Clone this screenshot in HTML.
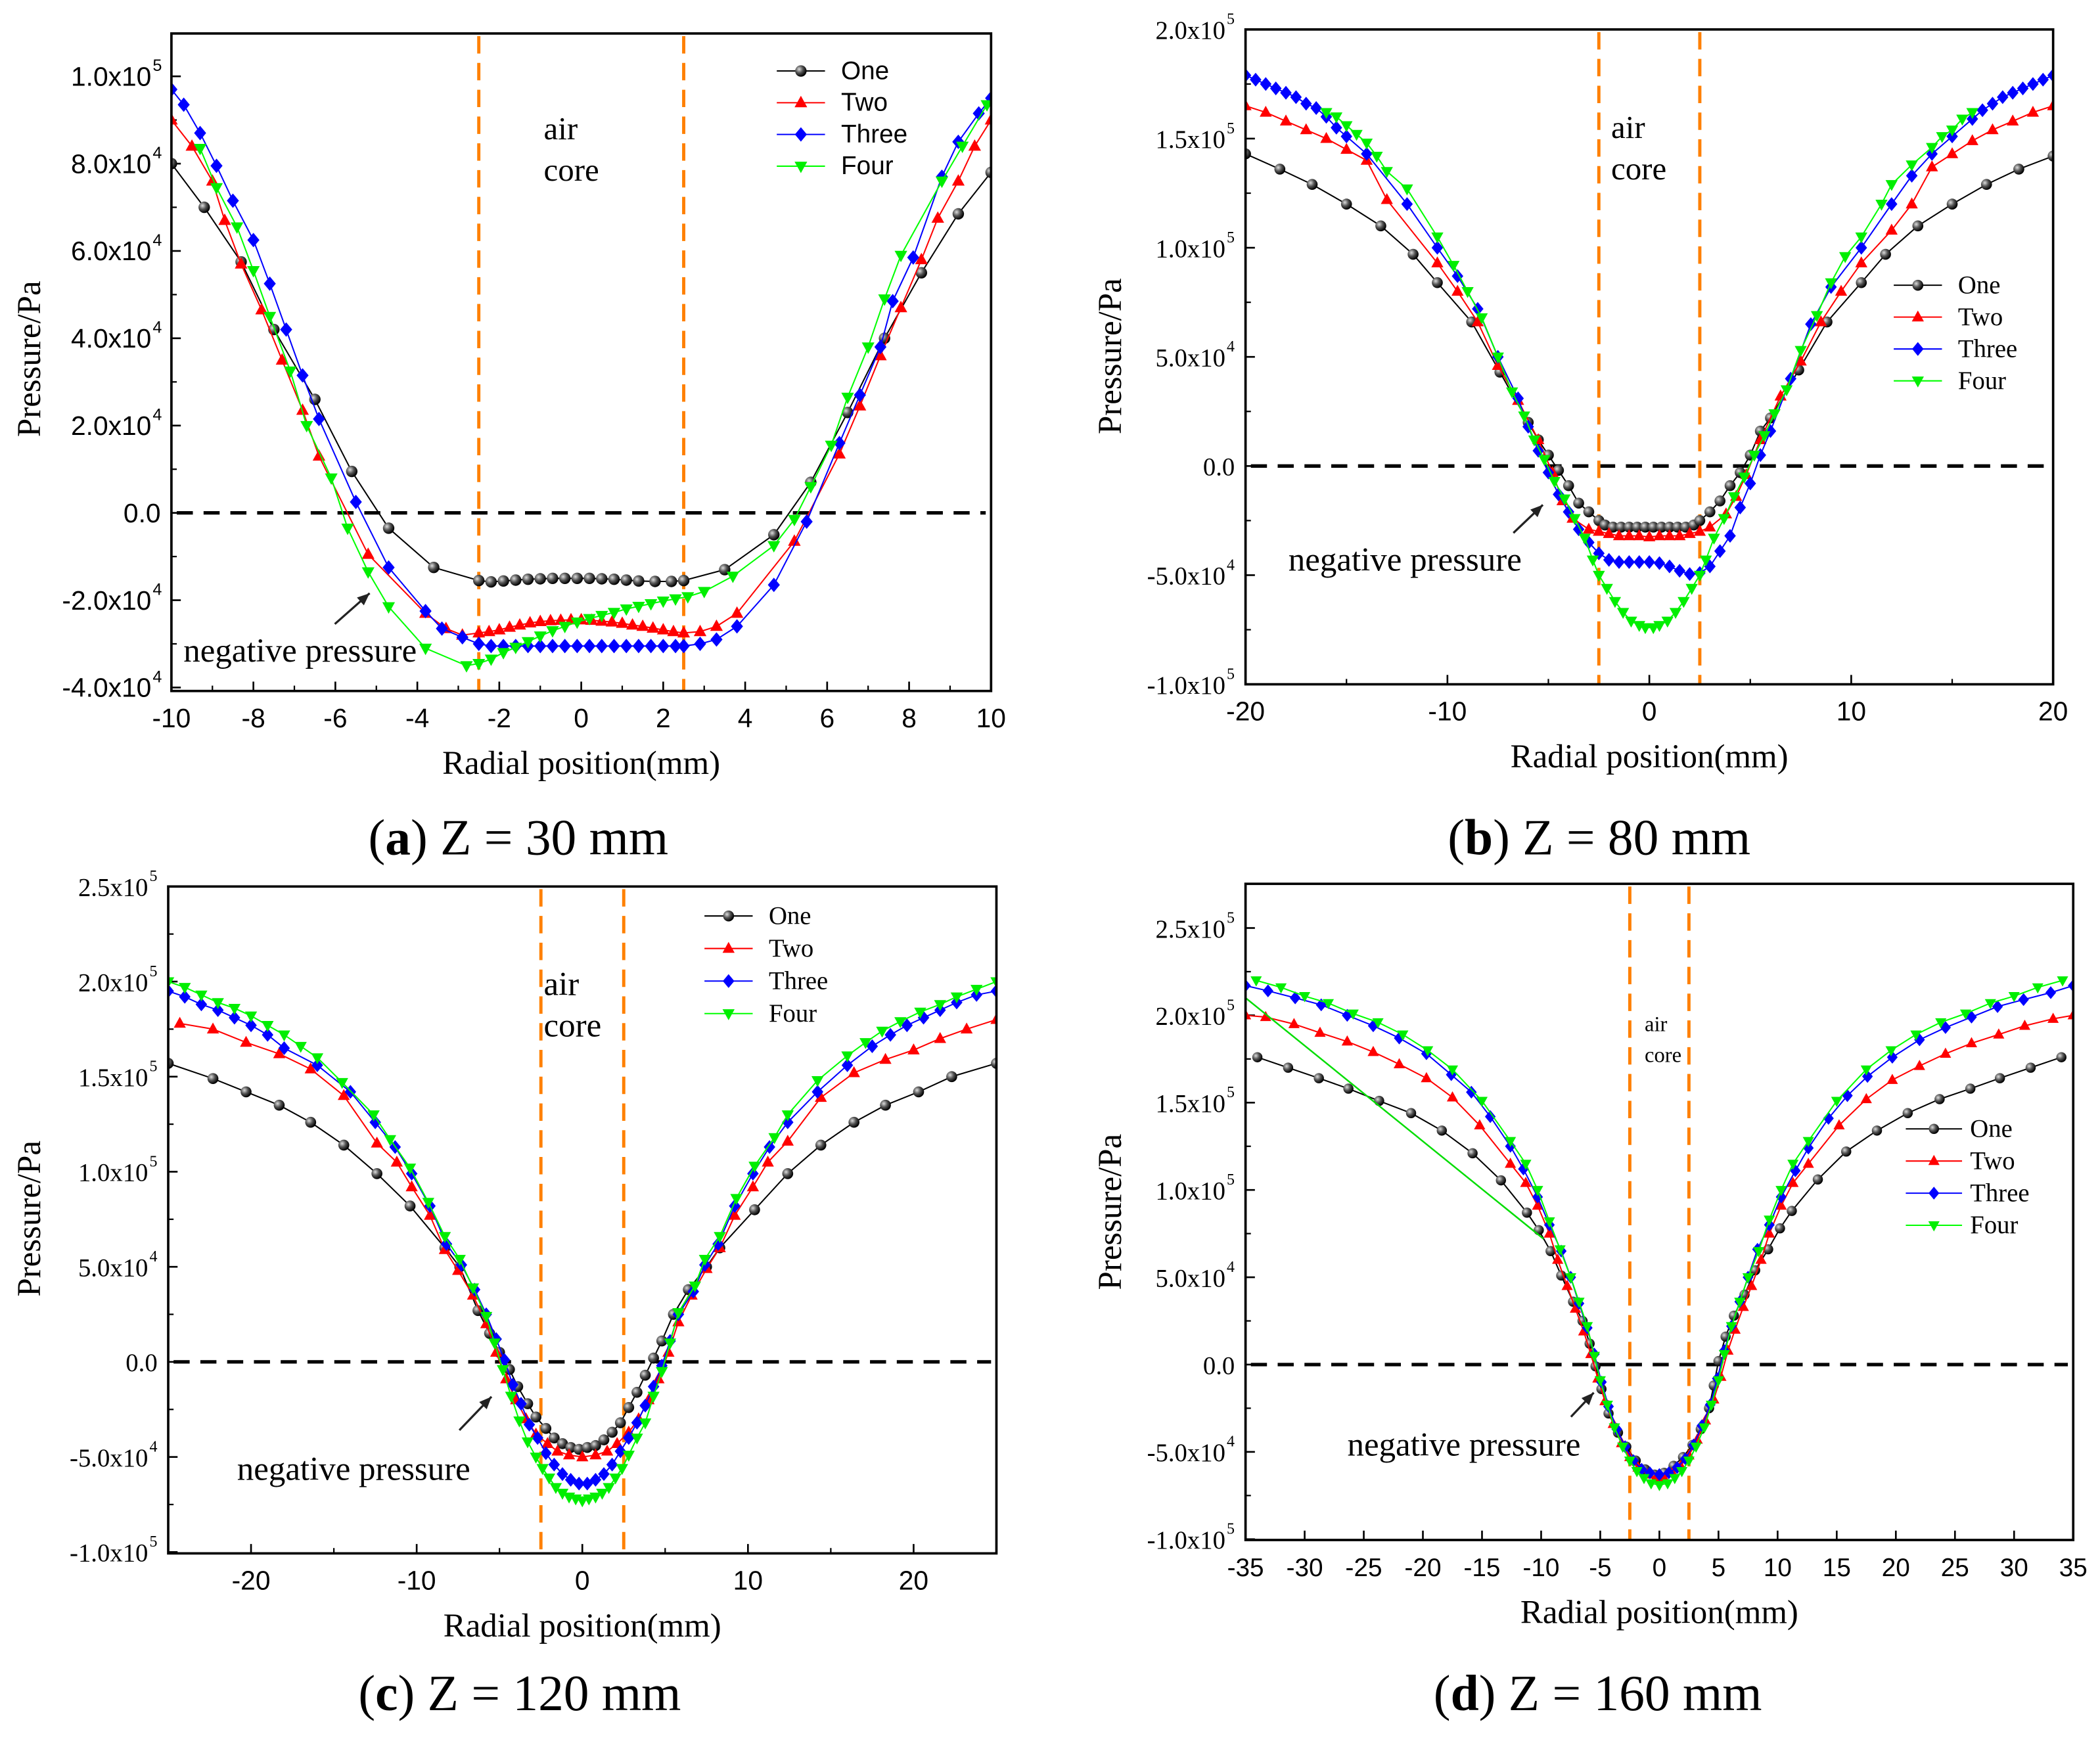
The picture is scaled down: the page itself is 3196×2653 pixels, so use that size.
<!DOCTYPE html>
<html><head><meta charset="utf-8"><style>
html,body{margin:0;padding:0;background:#fff}
svg{display:block}
</style></head><body>
<svg id="fig" xmlns="http://www.w3.org/2000/svg" width="3196" height="2653" viewBox="0 0 1568 1301.6">
<rect x="0" y="0" width="1568" height="1302" fill="#fff"/>
<defs>
<radialGradient id="ball" cx="35%" cy="35%" r="65%"><stop offset="0" stop-color="#ddd"/><stop offset="0.5" stop-color="#555"/><stop offset="1" stop-color="#000"/></radialGradient>
</defs>
</svg>
<script>
// ---------- DATA (values in 1e4 Pa, x in mm) ----------
const aOne=[[-10,8],[-9.2,7.0],[-8.3,5.75],[-7.5,4.2],[-6.5,2.6],[-5.6,0.95],[-4.7,-0.35],[-3.6,-1.25],[-2.5,-1.55],[-2.2,-1.58],[-1.9,-1.56],[-1.6,-1.54],[-1.3,-1.52],[-1.0,-1.51],[-0.7,-1.5],[-0.4,-1.5],[-0.1,-1.5],[0.2,-1.5],[0.5,-1.51],[0.8,-1.52],[1.1,-1.54],[1.4,-1.56],[1.8,-1.57],[2.2,-1.57],[2.5,-1.55],[3.5,-1.3],[4.7,-0.5],[5.6,0.7],[6.5,2.3],[7.4,4.0],[8.3,5.5],[9.2,6.85],[10,7.8]];
const aTwo=[[-10,9.0],[-9.5,8.4],[-9,7.6],[-8.7,6.7],[-8.3,5.7],[-7.8,4.65],[-7.3,3.5],[-6.8,2.35],[-6.4,1.3],[-5.2,-0.95],[-3.8,-2.3],[-3.3,-2.65],[-2.9,-2.8],[-2.5,-2.75],[-2.25,-2.72],[-2.0,-2.68],[-1.75,-2.62],[-1.5,-2.57],[-1.25,-2.52],[-1.0,-2.49],[-0.75,-2.47],[-0.5,-2.46],[-0.25,-2.45],[0,-2.45],[0.25,-2.46],[0.5,-2.48],[0.75,-2.5],[1.0,-2.53],[1.25,-2.57],[1.5,-2.6],[1.75,-2.64],[2.0,-2.68],[2.25,-2.72],[2.5,-2.75],[2.9,-2.72],[3.3,-2.6],[3.8,-2.3],[5.2,-0.65],[6.3,1.35],[6.8,2.45],[7.3,3.6],[7.8,4.7],[8.3,5.8],[8.7,6.75],[9.2,7.6],[9.6,8.4],[10,9.0]];
const aThree=[[-10,9.7],[-9.7,9.35],[-9.3,8.7],[-8.9,7.95],[-8.5,7.15],[-8.0,6.25],[-7.6,5.25],[-7.2,4.2],[-6.8,3.15],[-6.4,2.15],[-5.5,0.25],[-4.7,-1.25],[-3.8,-2.25],[-3.4,-2.65],[-2.9,-2.85],[-2.5,-3.0],[-2.2,-3.05],[-1.9,-3.05],[-1.6,-3.05],[-1.3,-3.05],[-1.0,-3.05],[-0.7,-3.05],[-0.4,-3.05],[-0.1,-3.05],[0.2,-3.05],[0.5,-3.05],[0.8,-3.05],[1.1,-3.05],[1.4,-3.05],[1.7,-3.05],[2.0,-3.05],[2.3,-3.05],[2.5,-3.05],[2.9,-3.0],[3.3,-2.9],[3.8,-2.6],[4.7,-1.65],[5.5,-0.2],[6.3,1.6],[6.8,2.7],[7.3,3.8],[7.6,4.85],[8.1,5.85],[8.8,7.7],[9.2,8.5],[9.7,9.15],[10,9.5]];
const aFour=[[-9.3,8.35],[-8.9,7.45],[-8.4,6.55],[-8.0,5.55],[-7.6,4.5],[-7.1,3.25],[-6.7,2.0],[-6.1,0.8],[-5.7,-0.35],[-5.2,-1.35],[-4.7,-2.15],[-3.8,-3.1],[-2.8,-3.5],[-2.5,-3.45],[-2.2,-3.35],[-1.9,-3.2],[-1.6,-3.08],[-1.3,-2.95],[-1.0,-2.82],[-0.7,-2.7],[-0.4,-2.6],[-0.1,-2.5],[0.2,-2.42],[0.5,-2.35],[0.8,-2.28],[1.1,-2.2],[1.4,-2.14],[1.7,-2.08],[2.0,-2.02],[2.3,-1.97],[2.6,-1.92],[3.0,-1.8],[3.7,-1.45],[4.7,-0.75],[5.2,-0.15],[5.6,0.6],[6.1,1.55],[6.5,2.65],[7.0,3.8],[7.4,4.9],[7.8,5.9],[8.8,7.6],[9.3,8.4],[9.9,9.35]];

const bOne=[[-20,14.3],[-18.3,13.6],[-16.7,12.9],[-15,12.0],[-13.3,11.0],[-11.7,9.7],[-10.5,8.4],[-8.8,6.6],[-7.4,4.3],[-6.0,2.0],[-5.5,1.2],[-5.0,0.5],[-4.5,-0.2],[-4.0,-0.9],[-3.5,-1.7],[-3.0,-2.1],[-2.5,-2.5],[-2.2,-2.7],[-1.8,-2.8],[-1.4,-2.8],[-1.0,-2.8],[-0.6,-2.8],[-0.2,-2.8],[0.2,-2.8],[0.6,-2.8],[1.0,-2.8],[1.4,-2.8],[1.8,-2.8],[2.2,-2.7],[2.5,-2.5],[3.0,-2.1],[3.5,-1.6],[4.0,-0.9],[4.5,-0.3],[5.0,0.5],[5.5,1.6],[6.0,2.2],[7.4,4.4],[8.8,6.6],[10.5,8.4],[11.7,9.7],[13.3,11],[15,12],[16.7,12.9],[18.3,13.6],[20,14.2]];
const bTwo=[[-20,16.5],[-19,16.2],[-18,15.8],[-17,15.4],[-16,15.0],[-15,14.5],[-14,14.0],[-13,12.2],[-10.5,9.3],[-9.5,8.0],[-8.5,6.6],[-7.5,4.6],[-6.5,3.0],[-5.5,1.2],[-4.8,-0.3],[-4.3,-1.6],[-3.8,-2.4],[-3,-2.9],[-2.5,-3.0],[-2,-3.1],[-1.5,-3.2],[-1,-3.2],[-0.5,-3.2],[0,-3.25],[0.5,-3.2],[1,-3.2],[1.5,-3.2],[2,-3.1],[2.5,-3.0],[3,-2.8],[3.8,-2.2],[4.3,-1.4],[4.8,-0.4],[5.5,1.2],[6.5,3.2],[7.5,4.8],[8.5,6.6],[9.5,8.0],[10.5,9.3],[12,10.8],[13,12.0],[14,13.7],[15,14.3],[16,14.9],[17,15.4],[18,15.8],[19,16.2],[20,16.5]];
const bThree=[[-20,17.9],[-19.5,17.7],[-19,17.5],[-18.5,17.3],[-18,17.1],[-17.5,16.9],[-17,16.6],[-16.5,16.4],[-16,16.0],[-15.5,15.5],[-15,15.1],[-14,14.3],[-12,12.0],[-10.5,10.0],[-9.5,8.7],[-8.5,7.2],[-7.5,5.0],[-6.5,3.1],[-6.0,1.8],[-5.5,0.7],[-5.0,-0.3],[-4.5,-1.3],[-4.0,-2.1],[-3.5,-2.9],[-3.0,-3.5],[-2.5,-4.0],[-2.0,-4.3],[-1.5,-4.4],[-1.0,-4.4],[-0.5,-4.4],[0,-4.4],[0.5,-4.45],[1.0,-4.6],[1.5,-4.8],[2.0,-4.95],[2.5,-4.9],[3.0,-4.6],[3.5,-3.9],[4.0,-3.2],[4.5,-1.9],[5.0,-0.8],[5.5,0.5],[6.0,1.6],[7,4.0],[8,6.5],[9,8.2],[10.5,10.0],[12,12.0],[13,13.3],[14,14.3],[15,15.1],[16,15.9],[16.5,16.3],[17,16.6],[17.5,16.9],[18,17.1],[18.5,17.3],[19,17.5],[19.5,17.7],[20,17.9]];
const bFour=[[-16,16.2],[-15.5,16.0],[-15,15.6],[-14.5,15.2],[-14,14.8],[-13.5,14.2],[-13,13.5],[-12,12.7],[-10.5,10.5],[-9.7,9.2],[-9,8.0],[-8.3,6.8],[-7.5,5.0],[-6.8,3.4],[-6.2,2.3],[-5.7,1.2],[-5.2,0.3],[-4.7,-0.7],[-4.2,-1.5],[-3.7,-2.4],[-3.2,-3.3],[-2.8,-4.3],[-2.5,-5.0],[-2.1,-5.6],[-1.7,-6.2],[-1.3,-6.7],[-0.9,-7.1],[-0.5,-7.3],[-0.2,-7.4],[0.2,-7.4],[0.5,-7.3],[0.9,-7.1],[1.3,-6.7],[1.7,-6.2],[2.1,-5.6],[2.5,-5.0],[2.8,-4.3],[3.2,-3.3],[3.7,-2.4],[4.2,-1.4],[4.7,-0.5],[5.2,0.5],[5.7,1.4],[6.2,2.4],[6.8,3.5],[7.5,5.3],[8.3,6.9],[9,8.4],[9.7,9.6],[10.5,10.5],[11.5,12.0],[12,12.9],[13,13.8],[14,14.6],[14.5,15.1],[15,15.4],[15.5,15.9],[16,16.2]];

const cOne=[[-25,15.7],[-22.3,14.9],[-20.3,14.2],[-18.3,13.5],[-16.4,12.6],[-14.4,11.4],[-12.4,9.9],[-10.4,8.2],[-8.3,6.0],[-7.4,5.0],[-6.3,2.7],[-5.6,1.5],[-5.0,0.5],[-4.4,-0.4],[-3.9,-1.3],[-3.3,-2.2],[-2.8,-2.9],[-2.2,-3.5],[-1.7,-4.0],[-1.2,-4.3],[-0.7,-4.5],[-0.2,-4.6],[0.3,-4.5],[0.8,-4.4],[1.3,-4.1],[1.8,-3.7],[2.3,-3.2],[2.8,-2.4],[3.3,-1.6],[3.8,-0.7],[4.3,0.2],[4.8,1.1],[5.5,2.5],[6.4,3.8],[7.5,5.0],[8.3,6.0],[10.4,8.0],[12.4,9.9],[14.4,11.4],[16.4,12.6],[18.3,13.5],[20.3,14.2],[22.3,15.0],[25,15.7]];
const cTwo=[[-24.3,17.8],[-22.3,17.5],[-20.3,16.8],[-18.3,16.2],[-16.4,15.4],[-14.4,14.0],[-12.4,11.5],[-11.2,10.5],[-10.3,9.2],[-9.2,7.7],[-8.3,5.9],[-7.5,4.8],[-6.6,3.5],[-5.8,2.0],[-5.2,0.5],[-4.6,-0.9],[-4.0,-2.0],[-3.4,-3.0],[-2.8,-3.8],[-2.1,-4.3],[-1.5,-4.7],[-0.8,-4.9],[0,-5.0],[0.8,-4.9],[1.5,-4.7],[2.1,-4.3],[2.8,-3.7],[3.4,-3.0],[4.0,-2.0],[4.6,-0.9],[5.2,0.5],[5.8,2.1],[6.6,3.5],[7.5,4.9],[8.3,6.0],[9.2,7.7],[10.3,9.2],[11.2,10.5],[12.4,11.6],[14.4,13.9],[16.4,15.2],[18.3,15.9],[20,16.4],[21.6,17.0],[23.2,17.5],[25,18.0]];
const cThree=[[-25,19.5],[-24,19.2],[-23,18.8],[-22,18.5],[-21,18.1],[-20,17.7],[-19,17.2],[-18,16.5],[-16,15.6],[-14,14.2],[-12.5,12.6],[-11.3,11.3],[-10.3,9.9],[-9.2,8.2],[-8.2,6.2],[-7.3,5.1],[-6.5,3.8],[-5.8,2.5],[-5.2,1.2],[-4.7,0.1],[-4.2,-1.2],[-3.7,-2.2],[-3.2,-3.3],[-2.7,-4.0],[-2.2,-4.8],[-1.7,-5.4],[-1.2,-5.9],[-0.7,-6.2],[-0.2,-6.4],[0.3,-6.4],[0.8,-6.2],[1.3,-5.9],[1.8,-5.4],[2.3,-4.7],[2.8,-4.0],[3.3,-3.2],[3.8,-2.3],[4.3,-1.3],[4.8,-0.2],[5.3,1.1],[5.8,2.5],[6.7,3.7],[7.4,5.1],[8.2,6.2],[9.2,8.2],[10.3,9.9],[11.3,11.3],[12.4,12.6],[14.2,14.2],[16,15.6],[17.5,16.6],[18.6,17.2],[19.6,17.7],[20.6,18.1],[21.6,18.5],[22.6,18.9],[23.8,19.3],[25,19.5]];
const cFour=[[-25,20.0],[-24,19.7],[-23,19.3],[-22,18.9],[-21,18.6],[-20,18.2],[-19,17.7],[-18,17.2],[-17,16.6],[-16,16.0],[-14.5,14.7],[-12.6,13.0],[-11.6,11.7],[-10.4,10.2],[-9.3,8.4],[-8.3,6.6],[-7.4,5.4],[-6.6,3.9],[-5.8,2.4],[-5.3,1.0],[-4.8,-0.4],[-4.3,-1.8],[-3.8,-3.1],[-3.3,-4.2],[-2.8,-5.0],[-2.4,-5.6],[-2.0,-6.1],[-1.6,-6.6],[-1.2,-6.9],[-0.8,-7.1],[-0.4,-7.2],[0,-7.3],[0.4,-7.2],[0.8,-7.1],[1.2,-6.9],[1.6,-6.6],[2.0,-6.1],[2.4,-5.6],[2.8,-4.9],[3.3,-4.0],[3.8,-3.2],[4.3,-1.8],[4.8,-0.5],[5.3,1.0],[5.8,2.6],[6.8,4.0],[7.4,5.4],[8.3,6.6],[9.3,8.6],[10.4,10.3],[11.6,11.8],[12.4,13.0],[14.2,14.8],[16,16.1],[17.1,16.8],[18.1,17.4],[19.2,17.9],[20.4,18.4],[21.6,18.8],[22.6,19.2],[23.8,19.6],[25,20.0]];

const dOne=[[-34,17.6],[-31.4,17.0],[-28.8,16.4],[-26.3,15.8],[-23.7,15.1],[-21,14.4],[-18.4,13.4],[-15.8,12.1],[-13.4,10.55],[-11.2,8.7],[-10.2,7.7],[-9.2,6.5],[-8.3,5.1],[-7.3,3.6],[-6.5,2.5],[-5.9,1.2],[-5.4,-0.1],[-4.9,-1.4],[-4.3,-2.8],[-3.5,-3.9],[-2.8,-4.7],[-2.0,-5.5],[-1.2,-6.0],[-0.4,-6.3],[0.4,-6.2],[1.2,-5.8],[2.0,-5.3],[2.8,-4.6],[3.5,-3.7],[4.2,-2.5],[4.6,-1.2],[5.0,0.2],[5.6,1.6],[6.3,2.8],[7.2,4.0],[8.1,5.4],[9.2,6.6],[10.2,7.8],[11.2,8.8],[13.4,10.6],[15.8,12.2],[18.4,13.4],[21,14.4],[23.7,15.2],[26.3,15.8],[28.8,16.4],[31.4,17.0],[34,17.6]];
const dTwo=[[-35,20.0],[-33.3,19.9],[-30.9,19.5],[-28.7,19.0],[-26.4,18.5],[-24.2,17.9],[-22,17.2],[-19.7,16.4],[-17.5,15.3],[-15.2,13.7],[-12.6,11.5],[-11.3,10.4],[-10.3,9.1],[-9.3,7.5],[-8.6,6.0],[-7.8,4.5],[-7.1,3.2],[-6.4,1.9],[-5.8,0.6],[-5.2,-0.8],[-4.6,-2.1],[-3.9,-3.4],[-3.2,-4.5],[-2.5,-5.3],[-1.8,-5.9],[-1.0,-6.3],[-0.3,-6.5],[0.4,-6.5],[1.1,-6.2],[1.8,-5.8],[2.5,-5.2],[3.2,-4.3],[3.9,-3.2],[4.6,-2.0],[5.2,-0.7],[5.8,0.8],[6.4,2.0],[7.1,3.3],[7.8,4.5],[8.6,6.0],[9.3,7.5],[10.3,9.1],[11.3,10.4],[12.6,11.5],[15.2,13.7],[17.5,15.2],[19.7,16.3],[22,17.1],[24.2,17.8],[26.4,18.4],[28.7,18.9],[30.9,19.4],[33.3,19.8],[35,20.0]];
const dThree=[[-35,21.7],[-33.1,21.4],[-30.8,21.0],[-28.6,20.6],[-26.4,20.0],[-24.2,19.4],[-22,18.7],[-19.7,17.8],[-17.6,16.6],[-15.9,15.6],[-14.3,14.2],[-12.6,12.5],[-11.5,11.2],[-10.3,9.6],[-9.3,8.0],[-8.3,6.5],[-7.5,5.0],[-6.8,3.5],[-6.1,2.1],[-5.5,0.6],[-4.9,-1.0],[-4.3,-2.4],[-3.6,-3.7],[-2.9,-4.7],[-2.2,-5.5],[-1.5,-6.0],[-0.8,-6.2],[0,-6.3],[0.8,-6.2],[1.5,-5.9],[2.2,-5.4],[2.9,-4.6],[3.6,-3.5],[4.3,-2.3],[4.9,-0.8],[5.5,0.8],[6.1,2.2],[6.8,3.6],[7.5,5.0],[8.3,6.6],[9.3,8.0],[10.3,9.6],[11.5,11.1],[12.6,12.4],[14.3,14.1],[15.9,15.4],[17.6,16.5],[19.7,17.6],[22,18.6],[24.2,19.3],[26.4,19.9],[28.6,20.5],[30.8,20.9],[33.1,21.3],[35,21.7]];
const dFour=[[-34.1,22.0],[-32,21.6],[-30,21.1],[-28,20.7],[-25.9,20.1],[-23.8,19.6],[-21.7,18.9],[-19.6,18.0],[-17.5,16.9],[-15,15.1],[-12.6,12.8],[-11.3,11.5],[-10.3,10.0],[-9.3,8.2],[-8.4,6.6],[-7.5,5.0],[-6.8,3.6],[-6.1,2.2],[-5.5,0.5],[-5.0,-0.9],[-4.4,-2.3],[-3.8,-3.6],[-3.1,-4.7],[-2.5,-5.5],[-1.9,-6.1],[-1.3,-6.5],[-0.7,-6.8],[0,-6.9],[0.7,-6.8],[1.3,-6.5],[1.9,-6.1],[2.5,-5.5],[3.1,-4.7],[3.8,-3.6],[4.4,-2.3],[5.0,-0.9],[5.5,0.6],[6.1,2.2],[6.8,3.6],[7.5,5.0],[8.4,6.5],[9.3,8.3],[10.3,10.0],[11.3,11.5],[12.6,12.8],[15,15.1],[17.5,16.9],[19.6,18.0],[21.7,18.9],[23.8,19.6],[25.9,20.1],[28,20.7],[30,21.1],[32,21.6],[34.1,22.0]];
const dFourStray=[[-35,21.0],[-9.8,7.2]];

const yTicksA=[-40000,-20000,0,20000,40000,60000,80000,100000];
const yTicksB=[-100000,-50000,0,50000,100000,150000,200000];
const yTicksC=[-100000,-50000,0,50000,100000,150000,200000,250000];
const yTicksD=[-100000,-50000,0,50000,100000,150000,200000,250000];
const xTicksA=[-10,-8,-6,-4,-2,0,2,4,6,8,10];
const xTicksB=[-20,-10,0,10,20];
const xTicksC=[-20,-10,0,10,20];
const xTicksD=[-35,-30,-25,-20,-15,-10,-5,0,5,10,15,20,25,30,35];
const legendLabels=["One","Two","Three","Four"];

// ---------- RENDER ----------
const NS="http://www.w3.org/2000/svg";
const svg=document.getElementById('fig');
function mk(tag,attrs,parent){const e=document.createElementNS(NS,tag);for(const k in attrs)e.setAttribute(k,attrs[k]);(parent||svg).appendChild(e);return e;}
const SANS='"Liberation Sans", Arial, sans-serif', SERIF='"Liberation Serif", "Times New Roman", serif';
const colors=["#000","#ff0000","#0000ff","#00ff00"];

function marker(g,type,x,y,s){
  let e;
  if(type===0){e=mk('circle',{cx:x,cy:y,r:s*0.95,fill:'url(#ball)'},g);}
  else if(type===1){e=mk('path',{d:`M${x},${y-s*1.15} L${x+s*1.05},${y+s*0.75} L${x-s*1.05},${y+s*0.75}Z`,fill:'#ff0000'},g);}
  else if(type===2){e=mk('path',{d:`M${x},${y-s*1.2} L${x+s},${y} L${x},${y+s*1.2} L${x-s},${y}Z`,fill:'#0000ff'},g);}
  else {e=mk('path',{d:`M${x},${y+s*1.15} L${x+s*1.05},${y-s*0.75} L${x-s*1.05},${y-s*0.75}Z`,fill:'#00ee00'},g);}
  
  
}
function fmt(v){
  if(v===0)return ["0.0",""];
  const e=Math.floor(Math.log10(Math.abs(v))+1e-9);
  return [(v/Math.pow(10,e)).toFixed(1)+"x10",String(e)];
}

function panel(cfg){
  const g=mk('g',{});
  
  
  const X=v=>cfg.x0+(v-cfg.xmin)/(cfg.xmax-cfg.xmin)*(cfg.x1-cfg.x0);
  const Y=v=>cfg.yZero-v/cfg.yUnit*cfg.yPx;
  const cid='clip-'+cfg.name;
  const cp=mk('clipPath',{id:cid},g);mk('rect',{x:cfg.x0,y:cfg.y0,width:cfg.x1-cfg.x0,height:cfg.y1-cfg.y0},cp);
  const step=cfg.yTicks[1]-cfg.yTicks[0];
  for(let i=0;i<cfg.yTicks.length;i++){
    const v=cfg.yTicks[i],y=Y(v);
    mk('line',{x1:cfg.x0,x2:cfg.x0+7,y1:y,y2:y,stroke:'#000','stroke-width':1.3},g);
    const m=Y(v+step/2); if(m>cfg.y0+1) mk('line',{x1:cfg.x0,x2:cfg.x0+4,y1:m,y2:m,stroke:'#000','stroke-width':1.1},g);
    const f=fmt(v);
    const t=mk('text',{x:cfg.x0-(f[1]?15:8),y:y+7,'text-anchor':'end','font-family':cfg.yFont,'font-size':cfg.yfs,fill:'#000'},g);
    t.textContent=f[0];
    
    
    if(f[1]){const s=mk('text',{x:cfg.x0-14,y:y-4,'font-family':cfg.yFont,'font-size':cfg.yfs*0.62,fill:'#000'},g);s.textContent=f[1];
      
      }
  }
  const xs=cfg.xTicks[1]-cfg.xTicks[0];
  for(let i=0;i<cfg.xTicks.length;i++){
    const v=cfg.xTicks[i],x=X(v);
    mk('line',{x1:x,x2:x,y1:cfg.y1,y2:cfg.y1-7,stroke:'#000','stroke-width':1.3},g);
    if(cfg.xMinor&&i<cfg.xTicks.length-1){const m=X(v+xs/2);mk('line',{x1:m,x2:m,y1:cfg.y1,y2:cfg.y1-4,stroke:'#000','stroke-width':1.1},g);}
    const t=mk('text',{x:x,y:cfg.y1+27,'text-anchor':'middle','font-family':SANS,'font-size':cfg.xfs,fill:'#000'},g);
    t.textContent=String(v);
    
    
  }
  if(cfg.xMinorEdge){[cfg.xmin+xs/2-xs,cfg.xmax-xs/2+xs].forEach(v=>{if(v>cfg.xmin&&v<cfg.xmax){const m=X(v);mk('line',{x1:m,x2:m,y1:cfg.y1,y2:cfg.y1-4,stroke:'#000','stroke-width':1.1},g);}});}
  const zl=mk('line',{x1:cfg.x0+4,x2:cfg.x1-4,y1:Y(0),y2:Y(0),stroke:'#000','stroke-width':2.6,'stroke-dasharray':'12,8'},g);
  
  
  [-2.5,2.5].forEach(v=>{const l=mk('line',{x1:X(v),x2:X(v),y1:cfg.y0+2,y2:cfg.y1,stroke:'#ff8000','stroke-width':2.4,'stroke-dasharray':'13,7'},g);
    
    });
  const dg=mk('g',{'clip-path':`url(#${cid})`},g);
  cfg.series.forEach((s,si)=>{
    const sg=mk('g',{},dg);
    
    
    const pts=s.map(p=>X(p[0]).toFixed(2)+','+Y(p[1]*1e4).toFixed(2)).join(' ');
    mk('polyline',{points:pts,fill:'none',stroke:colors[si],'stroke-width':1},sg);
    s.forEach(p=>marker(sg,si,X(p[0]),Y(p[1]*1e4),cfg.ms));
  });
  if(cfg.stray){const l=mk('polyline',{points:cfg.stray.map(p=>X(p[0])+','+Y(p[1]*1e4)).join(' '),fill:'none',stroke:'#00dd00','stroke-width':1.2},dg);
    
    }
  const fr=mk('rect',{x:cfg.x0,y:cfg.y0,width:cfg.x1-cfg.x0,height:cfg.y1-cfg.y0,fill:'none',stroke:'#000','stroke-width':1.8},g);
  
  
  const lg=mk('g',{},g);
  
  
  legendLabels.forEach((lab,i)=>{
    const y=cfg.leg.y+i*cfg.leg.dy;
    const e=mk('g',{},lg);
    
    
    mk('line',{x1:cfg.leg.x,x2:cfg.leg.x+cfg.leg.w,y1:y,y2:y,stroke:colors[i],'stroke-width':1},e);
    marker(e,i,cfg.leg.x+cfg.leg.w/2,y,cfg.ms);
    const t=mk('text',{x:cfg.leg.x+cfg.leg.w+(cfg.leg.gap||12),y:y+6,'font-family':cfg.legFont,'font-size':cfg.leg.fs,fill:'#000'},e);t.textContent=lab;
  });
  const ac=cfg.air;
  const t1=mk('text',{x:ac.x,y:ac.y,'font-family':SERIF,'font-size':ac.fs,fill:'#000'},g);t1.textContent='air';
  
  
  const t2=mk('text',{x:ac.x,y:ac.y+ac.dy,'font-family':SERIF,'font-size':ac.fs,fill:'#000'},g);t2.textContent='core';
  
  
  const np=cfg.neg;
  const t3=mk('text',{x:np.x,y:np.y,'font-family':SERIF,'font-size':25,fill:'#000'},g);t3.textContent='negative pressure';
  
  
  const ar=np.arrow;
  const an=mk('line',{x1:ar[0],y1:ar[1],x2:ar[2],y2:ar[3],stroke:'#222','stroke-width':1.6},g);
  
  
  const ang=Math.atan2(ar[3]-ar[1],ar[2]-ar[0]),L=10,W=0.4;
  mk('path',{d:`M${ar[2]},${ar[3]} L${ar[2]-L*Math.cos(ang-W)},${ar[3]-L*Math.sin(ang-W)} L${ar[2]-L*Math.cos(ang+W)},${ar[3]-L*Math.sin(ang+W)}Z`,fill:'#222'},g);
  const xt=mk('text',{x:(cfg.x0+cfg.x1)/2,y:cfg.y1+62,'text-anchor':'middle','font-family':SERIF,'font-size':25,fill:'#000'},g);xt.textContent='Radial position(mm)';
  
  
  const yt=mk('text',{x:0,y:0,'text-anchor':'middle','font-family':SERIF,'font-size':25,fill:'#000',transform:`translate(${cfg.ytX},${cfg.ytY}) rotate(-90)`},g);yt.textContent='Pressure/Pa';
  
  
  const cap=mk('text',{x:cfg.cap.x,y:cfg.cap.y,'text-anchor':'middle','font-family':SERIF,'font-size':38,fill:'#000'},g);
  
  
  const b=mk('tspan',{'font-weight':'bold'},cap);
  cap.insertBefore(document.createTextNode('('),b);b.textContent=cfg.cap.l;
  cap.appendChild(document.createTextNode(') Z = '+cfg.cap.z+' mm'));
}

panel({name:'panel-a-z30',x0:128,x1:740,y0:25,y1:516,xmin:-10,xmax:10,yZero:383,yUnit:20000,yPx:65.2,
  yTicks:yTicksA,xTicks:xTicksA,xMinor:true,yFont:SANS,yfs:20,xfs:20,ms:4.5,legFont:SANS,
  series:[aOne,aTwo,aThree,aFour],
  leg:{x:580,y:53,dy:23.7,w:36,fs:19},air:{x:406,y:104,dy:31,fs:24},neg:{x:137,y:494,arrow:[250,466,276,443]},
  ytX:30,ytY:268,cap:{x:387,y:638,l:'a',z:'30'}});
panel({name:'panel-b-z80',x0:930,x1:1533,y0:22,y1:511,xmin:-20,xmax:20,yZero:348,yUnit:100000,yPx:163,
  yTicks:yTicksB,xTicks:xTicksB,xMinor:true,yFont:SERIF,yfs:19,xfs:20,ms:4.3,legFont:SERIF,
  series:[bOne,bTwo,bThree,bFour],
  leg:{x:1414,y:213,dy:23.8,w:36,fs:19},air:{x:1203,y:103,dy:31,fs:24},neg:{x:962,y:426,arrow:[1130,398,1152,377]},
  ytX:837,ytY:266,cap:{x:1194,y:638,l:'b',z:'80'}});
panel({name:'panel-c-z120',x0:125.6,x1:744,y0:662,y1:1160,xmin:-25,xmax:25,yZero:1017,yUnit:100000,yPx:142,
  yTicks:yTicksC,xTicks:xTicksC,xMinor:true,xMinorEdge:true,yFont:SERIF,yfs:19,xfs:20,ms:4.3,legFont:SERIF,
  series:[cOne,cTwo,cThree,cFour],
  leg:{x:526,y:684,dy:24.3,w:36,fs:19},air:{x:406,y:743,dy:31,fs:25},neg:{x:177,y:1105,arrow:[343,1068,367,1043]},
  ytX:30,ytY:910,cap:{x:388,y:1277,l:'c',z:'120'}});
panel({name:'panel-d-z160',x0:930,x1:1548,y0:660,y1:1150,xmin:-35,xmax:35,yZero:1019,yUnit:100000,yPx:130.4,
  yTicks:yTicksD,xTicks:xTicksD,xMinor:false,yFont:SERIF,yfs:19,xfs:19,ms:4,legFont:SERIF,
  series:[dOne,dTwo,dThree,dFour],stray:dFourStray,
  leg:{x:1423,y:843,dy:24,w:42,fs:19,gap:6},air:{x:1228,y:770,dy:23,fs:16},neg:{x:1006,y:1087,arrow:[1173,1058,1190,1040]},
  ytX:837,ytY:905,cap:{x:1193,y:1277,l:'d',z:'160'}});
</script>
</body></html>
